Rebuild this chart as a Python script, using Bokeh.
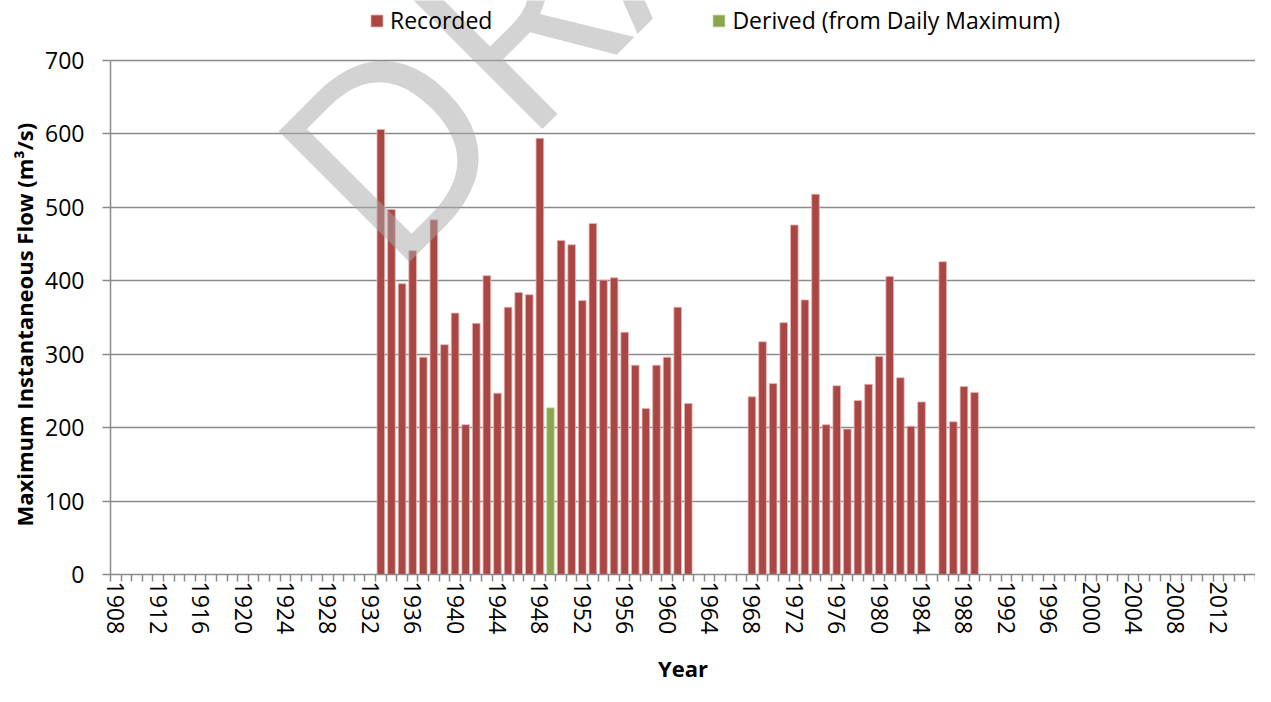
from bokeh.plotting import figure
from bokeh.models import (Range1d, FixedTicker, Legend, LegendItem, Label,
                          ColumnDataSource, Title)
from bokeh.embed import file_html
from bokeh.resources import INLINE

# ---- data ----
years_recorded = [1933, 1934, 1935, 1936, 1937, 1938, 1939, 1940, 1941, 1942,
                  1943, 1944, 1945, 1946, 1947, 1948,
                  1950, 1951, 1952, 1953, 1954, 1955, 1956, 1957, 1958, 1959,
                  1960, 1961, 1962,
                  1968, 1969, 1970, 1971, 1972, 1973, 1974, 1975, 1976, 1977,
                  1978, 1979, 1980, 1981, 1982, 1983, 1984,
                  1986, 1987, 1988, 1989]
flow_recorded = [606, 497, 396, 441, 296, 483, 313, 356, 204, 342,
                 407, 247, 364, 384, 381, 594,
                 455, 449, 373, 478, 401, 404, 330, 285, 226, 285,
                 296, 364, 233,
                 242, 317, 260, 343, 476, 374, 518, 204, 257, 198,
                 237, 259, 297, 406, 268, 202, 235,
                 426, 208, 256, 248]
years_derived = [1949]
flow_derived = [227]

year_first, year_last = 1908, 2015
label_years = list(range(1908, 2013, 4))
y_ticks = [0, 100, 200, 300, 400, 500, 600, 700]
y_max = 700

series_names = ["Recorded", "Derived (from Daily Maximum)"]
colors = ["#AA4643", "#89A54E"]
y_title = "Maximum Instantaneous Flow (m³/s)"
x_title = "Year"

FONT = "Open Sans"
GRID = "#8a8a8a"

W, H = 1255, 686
BORDER_L, BORDER_B = 110, 112
TOP_PAD_PX = 60          # space above the 700 line, used by the legend
frame_h = H - BORDER_B
y_top = y_max * frame_h / (frame_h - TOP_PAD_PX)

p = figure(width=W, height=H, output_backend="svg", toolbar_location=None,
           x_range=Range1d(year_first - 0.5, year_last + 0.5),
           y_range=Range1d(0, y_top),
           min_border_left=BORDER_L, min_border_right=0,
           min_border_top=0, min_border_bottom=BORDER_B)
p.outline_line_color = None
p.background_fill_color = "white"

src_r = ColumnDataSource(dict(x=years_recorded, top=flow_recorded))
src_d = ColumnDataSource(dict(x=years_derived, top=flow_derived))
r1 = p.vbar(x="x", top="top", width=0.72, source=src_r,
            fill_color=colors[0], line_color="#e3b5b4", line_width=0.8)
r2 = p.vbar(x="x", top="top", width=0.72, source=src_d,
            fill_color=colors[1], line_color="#cfe0b5", line_width=0.8)

# x axis: labels every 4 years at year centres, tick marks at year boundaries
xa = p.xaxis[0]
xa.ticker = FixedTicker(ticks=label_years,
                        minor_ticks=[y - 0.5 for y in range(year_first, year_last + 2)])
xa.major_tick_out = 0
xa.major_tick_in = 0
xa.minor_tick_out = 7
xa.minor_tick_in = 0
xa.minor_tick_line_color = GRID
xa.minor_tick_line_width = 1.5
xa.axis_line_color = GRID
xa.axis_line_width = 1.5
xa.major_label_orientation = "vertical"
xa.major_label_standoff = 0
xa.major_label_text_font = FONT
xa.major_label_text_font_size = "23px"
xa.major_label_text_color = "black"
xa.axis_label = x_title
xa.axis_label_text_font = FONT
xa.axis_label_text_font_style = "bold"
xa.axis_label_text_font_size = "22px"
xa.axis_label_text_color = "black"
xa.axis_label_standoff = 16

ya = p.yaxis[0]
ya.bounds = (0, y_max)
ya.ticker = FixedTicker(ticks=y_ticks, minor_ticks=[])
ya.major_tick_out = 8
ya.major_tick_in = 0
ya.major_tick_line_color = GRID
ya.major_tick_line_width = 1.5
ya.minor_tick_out = 0
ya.minor_tick_in = 0
ya.axis_line_color = GRID
ya.axis_line_width = 1.5
ya.major_label_standoff = 18
ya.major_label_text_font = FONT
ya.major_label_text_font_size = "23px"
ya.major_label_text_color = "black"

# y axis title, centred on the 0..700 span rather than on the whole frame
p.add_layout(Title(text=y_title, align="left", offset=48,
                   text_font=FONT, text_font_style="bold",
                   text_font_size="22px", text_color="black",
                   standoff=8), "left")

p.xgrid.grid_line_color = None
p.ygrid.grid_line_color = GRID
p.ygrid.grid_line_width = 1.5
p.ygrid.ticker = FixedTicker(ticks=y_ticks)

legend = Legend(items=[LegendItem(label=series_names[0], renderers=[r1]),
                       LegendItem(label=series_names[1], renderers=[r2])],
                location=(259, frame_h - 36), orientation="horizontal",
                glyph_width=15, glyph_height=15, label_standoff=6,
                spacing=219, padding=0, margin=0,
                border_line_color=None, background_fill_alpha=0,
                label_text_font=FONT, label_text_font_size="23px",
                label_text_color="black")
p.add_layout(legend, "center")

# DRAFT watermark (page overlay)
wm = Label(x=1927.31, y=498, text="DRAFT", angle=45, angle_units="deg",
           text_font=FONT, text_font_size="259px", text_color="#a8a8a8",
           text_alpha=0.5, text_align="left", text_baseline="alphabetic")
p.add_layout(wm)

open("out.html", "w").write(file_html(p, INLINE))
